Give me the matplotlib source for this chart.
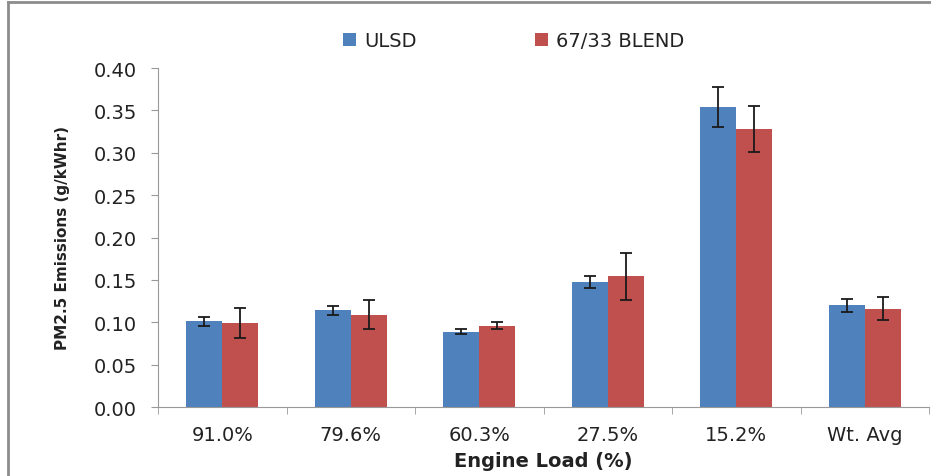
import matplotlib.pyplot as plt
from matplotlib.lines import Line2D
import numpy as np

loads = ['91.0%', '79.6%', '60.3%', '27.5%', '15.2%', 'Wt. Avg']
ulsd = [0.101, 0.114, 0.089, 0.147, 0.354, 0.120]
ulsd_err = [0.005, 0.005, 0.003, 0.007, 0.024, 0.0075]
blend = [0.099, 0.109, 0.096, 0.154, 0.328, 0.116]
blend_err = [0.018, 0.017, 0.004, 0.028, 0.027, 0.0135]

plt.rcParams['font.family'] = ['DejaVu Sans']

fig = plt.figure(figsize=(9.31, 4.77), dpi=100)
ax = fig.add_axes([158/931., 1-408/477., 771/931., 339/477.])

x = np.arange(len(loads))
w = 0.28
ekw = dict(ecolor='#1a1a1a', elinewidth=1.3, capsize=4, capthick=1.3)
b1 = ax.bar(x - w/2, ulsd, w, color='#4F81BD', yerr=ulsd_err, error_kw=ekw, label='ULSD')
b2 = ax.bar(x + w/2, blend, w, color='#C0504D', yerr=blend_err, error_kw=ekw, label='67/33 BLEND')

ax.set_xlim(-0.5, len(loads) - 0.5)
ax.set_ylim(0, 0.4)
yt = np.arange(0, 0.401, 0.05)
ax.set_yticks(yt)
ax.set_yticklabels(['%.2f' % v for v in yt], fontsize=14, color='#222222')
ax.set_xticks(x)
ax.set_xticklabels(loads, fontsize=14, color='#222222')
ax.set_xticks(np.arange(-0.5, len(loads)), minor=True)
ax.tick_params(axis='x', which='major', length=0, pad=13)
ax.tick_params(axis='x', which='minor', length=5, color='#999999')
ax.tick_params(axis='y', length=5, color='#999999', pad=10)
for s in ['top', 'right']:
	ax.spines[s].set_visible(False)
for s in ['left', 'bottom']:
	ax.spines[s].set_color('#999999')

ax.set_xlabel('Engine Load (%)', fontsize=14, fontweight='bold', labelpad=5, color='#222222')
ax.set_ylabel('PM2.5 Emissions (g/kWhr)', fontsize=11, fontweight='bold', labelpad=17, color='#222222')

fig.legend(handles=[b1, b2], loc='center', bbox_to_anchor=(0.552, 1-41.5/477.), ncol=2,
	frameon=False, fontsize=14, handlelength=0.67, handleheight=0.67, columnspacing=6.1,
	handletextpad=0.4, labelcolor='#222222')

# grey frame along the top and left of the figure
fig.add_artist(Line2D([8/931., 1], [1-3/477., 1-3/477.], color='#8c8c8c', lw=2))
fig.add_artist(Line2D([8/931., 8/931.], [0, 1-3/477.], color='#8c8c8c', lw=2))

fig.savefig('out.png', dpi=100)
